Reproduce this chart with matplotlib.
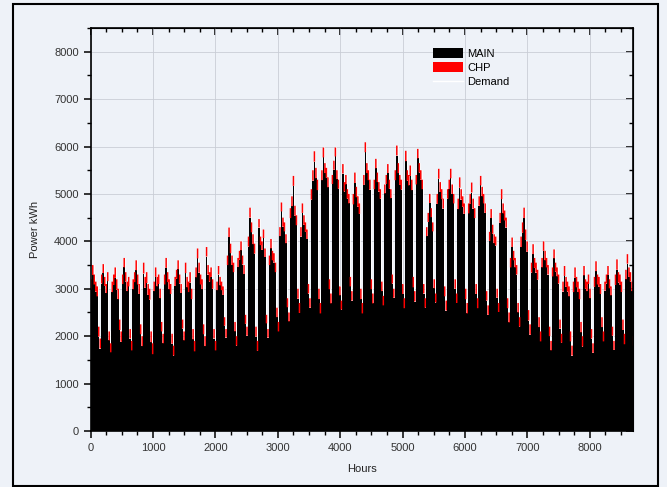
import matplotlib
matplotlib.use('Agg')
import matplotlib.pyplot as plt
import numpy as np
from matplotlib.lines import Line2D
from matplotlib.patches import Patch, Rectangle
from matplotlib.ticker import MultipleLocator

# daily demand (kW), one row per week, Mon..Sun
demand_week = [
    [3200, 3500, 3300, 3150, 3050, 2200, 1950],
    [3300, 3520, 3250, 3100, 3350, 2100, 1850],
    [3150, 3300, 3450, 3200, 3000, 2350, 2100],
    [3300, 3650, 3350, 3150, 3250, 2150, 1900],
    [3200, 3350, 3600, 3300, 3100, 2250, 2000],
    [3550, 3250, 3350, 3100, 3000, 2100, 1850],
    [3150, 3450, 3250, 3300, 3000, 2300, 2050],
    [3300, 3650, 3350, 3200, 3100, 2050, 1800],
    [3250, 3400, 3600, 3300, 3100, 2350, 2100],
    [3550, 3250, 3150, 3350, 3000, 2150, 1900],
    [3450, 3850, 3550, 3300, 3200, 2250, 2000],
    [3880, 3500, 3350, 3450, 3200, 2150, 1900],
    [3150, 3480, 3250, 3150, 3050, 2400, 2150],
    [3700, 4290, 3950, 3700, 3550, 2300, 2000],
    [3650, 3800, 4000, 3700, 3500, 2450, 2200],
    [4100, 4710, 4400, 4150, 3950, 2200, 1900],
    [4470, 4100, 4000, 4250, 3850, 2450, 2150],
    [3700, 4050, 3800, 3750, 3550, 2600, 2300],
    [4300, 4820, 4500, 4400, 4150, 2800, 2500],
    [4700, 4950, 5380, 4750, 4550, 3000, 2700],
    [4300, 4800, 4550, 4400, 4250, 3100, 2800],
    [5100, 5500, 5900, 5550, 5300, 3000, 2700],
    [5500, 5980, 5650, 5550, 5350, 3200, 2900],
    [5400, 5700, 5980, 5500, 5300, 3050, 2750],
    [5630, 5250, 5400, 5100, 5000, 3250, 2950],
    [5000, 5450, 5150, 4950, 4800, 3000, 2700],
    [5400, 6090, 5650, 5500, 5300, 3200, 2900],
    [5300, 5740, 5450, 5250, 5100, 3150, 2850],
    [5200, 5400, 5630, 5300, 5100, 3300, 3000],
    [5500, 6020, 5650, 5400, 5300, 3100, 2800],
    [5910, 5500, 5400, 5600, 5300, 3250, 2950],
    [5400, 5950, 5650, 5500, 5300, 3100, 2800],
    [4300, 4600, 5000, 4700, 4400, 3200, 2900],
    [5000, 5530, 5250, 5100, 4900, 3050, 2750],
    [5100, 5300, 5530, 5200, 5000, 3200, 2900],
    [4900, 5350, 5100, 4950, 4800, 3000, 2700],
    [4800, 5000, 5240, 4900, 4700, 3100, 2800],
    [4950, 5380, 5150, 5000, 4800, 2950, 2650],
    [4200, 4680, 4350, 4150, 4100, 3000, 2700],
    [4600, 5100, 4800, 4650, 4500, 2800, 2500],
    [3650, 4080, 3800, 3650, 3500, 2700, 2400],
    [4100, 4400, 4710, 4250, 4000, 2550, 2250],
    [3550, 3940, 3650, 3550, 3400, 2400, 2100],
    [3650, 4000, 3800, 3650, 3500, 2200, 1900],
    [3450, 3830, 3550, 3450, 3300, 2350, 2050],
    [3150, 3480, 3250, 3150, 3050, 2100, 1800],
    [3150, 3450, 3250, 3150, 3000, 2300, 2000],
    [3480, 3200, 3150, 3300, 3000, 2150, 1850],
    [3250, 3580, 3300, 3250, 3100, 2400, 2100],
    [3150, 3300, 3480, 3200, 3050, 2200, 1900],
    [3300, 3620, 3350, 3300, 3150, 2350, 2050],
    [3400, 3730, 3450, 3350, 3150, 2000, 1700],
]
demand_last_day = [3400]

# CHP output per week (kW)
chp_week = [210, 190, 220, 200, 210, 230, 200, 210, 190, 220, 210, 200,
            180, 200, 190, 210, 180, 200, 190, 210, 200, 220, 210, 190,
            200, 220, 210, 200, 190, 210, 220, 200, 190, 210, 200, 220,
            210, 200, 190, 210, 200, 220, 210, 200, 190, 210, 220, 200,
            210, 190, 220, 200, 210]

demand = np.array([v for row in demand_week for v in row] + demand_last_day, dtype=float)
chp = np.repeat(chp_week, 7)[:len(demand)]
main = demand - chp
edges = np.arange(len(demand) + 1) * 24

bg = '#eef2f8'
plt.rcParams['font.family'] = ['Liberation Sans', 'DejaVu Sans']

fig = plt.figure(figsize=(6.67, 4.87), dpi=100)
fig.patch.set_facecolor(bg)
ax = fig.add_axes([0.1357, 0.115, 0.814, 0.8275])
ax.set_facecolor(bg)

# demand line sits just under the fills, only its edges show
ax.stairs(demand, edges, color='white', lw=0.6, zorder=1.5)
ax.stairs(main, edges, baseline=0, fill=True, color='black', zorder=2)
ax.stairs(demand, edges, baseline=main, fill=True, color='red', zorder=2)

ax.set_xlim(0, 8700)
ax.set_ylim(0, 8500)
ax.grid(True, which='major', color='#c9cdd6', lw=0.6)
ax.set_axisbelow(True)

ax.xaxis.set_major_locator(MultipleLocator(1000))
ax.xaxis.set_minor_locator(MultipleLocator(250))
ax.yaxis.set_major_locator(MultipleLocator(1000))
ax.yaxis.set_minor_locator(MultipleLocator(500))
ax.tick_params(which='major', direction='out', length=5, width=1.1, labelsize=8, labelcolor='#333333')
ax.tick_params(which='minor', direction='out', length=3, width=1.0)

# top / right ticks point inwards
top = ax.secondary_xaxis('top')
top.xaxis.set_major_locator(MultipleLocator(1000))
top.xaxis.set_minor_locator(MultipleLocator(250))
top.tick_params(which='major', direction='in', length=5, width=1.1, labeltop=False)
top.tick_params(which='minor', direction='in', length=3, width=1.0)
right = ax.secondary_yaxis('right')
right.yaxis.set_major_locator(MultipleLocator(1000))
right.yaxis.set_minor_locator(MultipleLocator(500))
right.tick_params(which='major', direction='in', length=5, width=1.1, labelright=False)
right.tick_params(which='minor', direction='in', length=3, width=1.0)

for sp in ax.spines.values():
    sp.set_linewidth(1.2)

ax.set_xlabel('Hours', fontsize=8, color='#222222', labelpad=8)
ax.set_ylabel('Power kWh', fontsize=8, color='#222222', labelpad=10)

handles = [Patch(facecolor='black'), Patch(facecolor='red'), Line2D([], [], color='white', lw=1)]
ax.legend(handles, ['MAIN', 'CHP', 'Demand'], loc='upper left', bbox_to_anchor=(0.612, 0.975),
          frameon=False, fontsize=8, handlelength=2.7, handleheight=1.0,
          labelspacing=0.3, handletextpad=0.4)

fig.add_artist(Rectangle((0.0195, 0.003), 0.967, 0.989, transform=fig.transFigure,
                         fill=False, edgecolor='black', lw=1.5))

fig.savefig('out.png', dpi=100, facecolor=fig.get_facecolor())
